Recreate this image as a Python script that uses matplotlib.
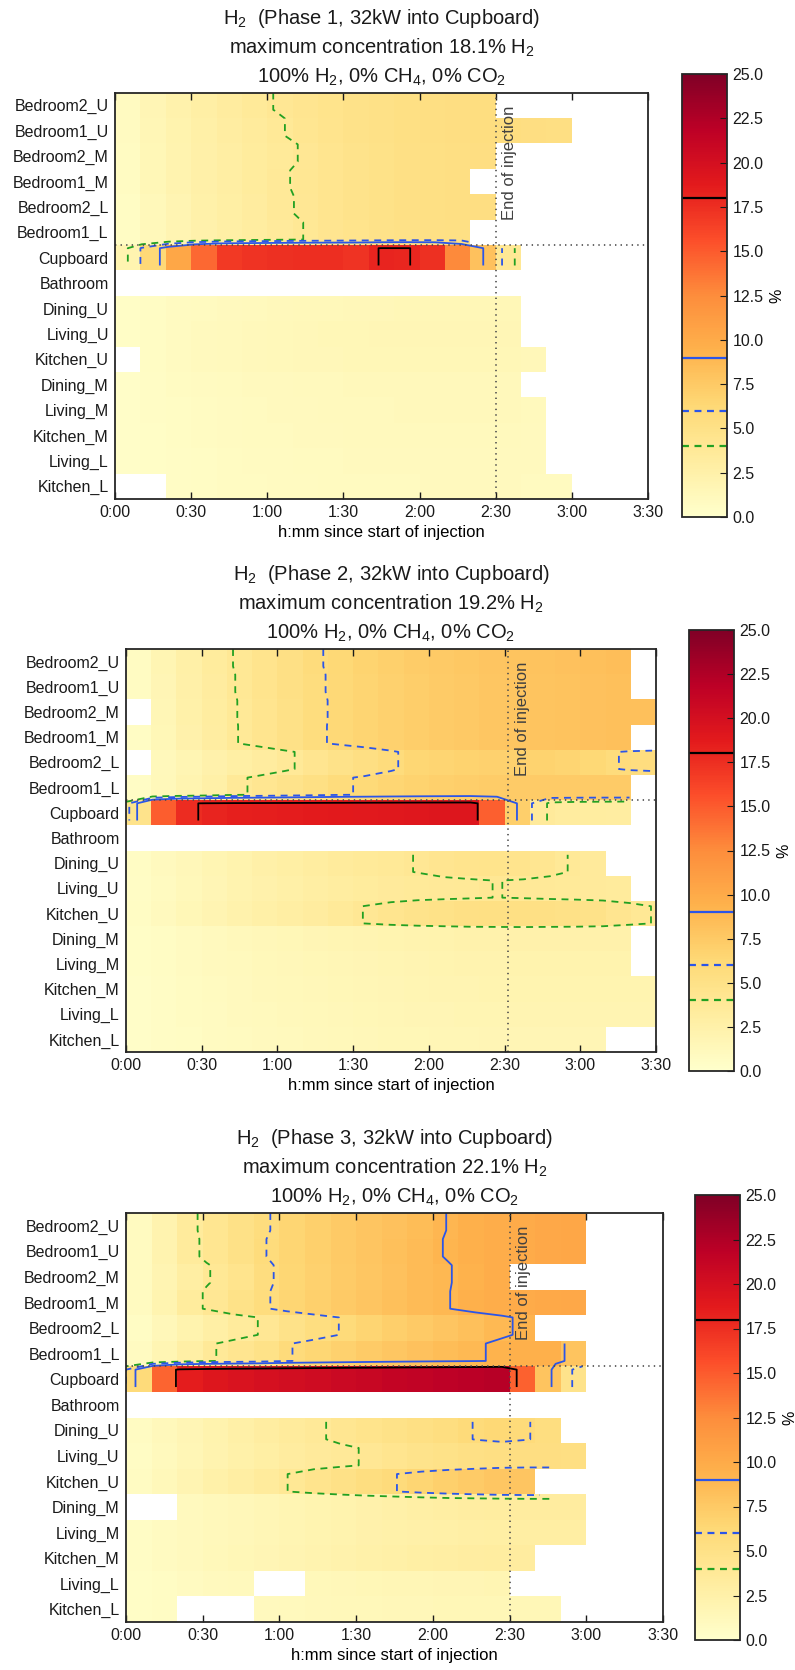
import numpy as np
import matplotlib
matplotlib.use('Agg')
import matplotlib.pyplot as plt

plt.rcParams['font.family'] = ['Liberation Sans', 'DejaVu Sans']
plt.rcParams['mathtext.default'] = 'regular'
plt.rcParams['lines.dashed_pattern'] = [5, 4]
plt.rcParams['lines.dotted_pattern'] = [1, 3]
plt.rcParams['lines.scale_dashes'] = False
plt.rcParams['text.color'] = '0.1'
plt.rcParams['xtick.color'] = '0.1'
plt.rcParams['ytick.color'] = '0.1'

n = np.nan

# rows listed top to bottom, 10-minute columns from 0:00 to 3:30
rooms = ['Bedroom2_U', 'Bedroom1_U', 'Bedroom2_M', 'Bedroom1_M', 'Bedroom2_L',
         'Bedroom1_L', 'Cupboard', 'Bathroom', 'Dining_U', 'Living_U', 'Kitchen_U',
         'Dining_M', 'Living_M', 'Kitchen_M', 'Living_L', 'Kitchen_L']
time_edges = np.arange(0, 211, 10)
tick_min = np.arange(0, 211, 30)
tick_lab = ['0:00', '0:30', '1:00', '1:30', '2:00', '2:30', '3:00', '3:30']
levels = [4, 6, 9, 18]
max_conc = [18.1, 19.2, 22.1]
end_inj = [150, 151.5, 150]

phase1 = [
    [0.8, 1.7, 2.3, 2.8, 3.3, 3.7, 4.02, 4.3, 4.6, 4.8, 5.0, 5.2, 5.3, 5.4, 5.5, n, n, n, n, n, n],
    [0.8, 1.6, 2.2, 2.7, 3.1, 3.5, 3.85, 4.25, 4.5, 4.8, 5.0, 5.2, 5.3, 5.4, 5.5, 5.5, 5.4, 5.3, n, n, n],
    [0.7, 1.5, 2.1, 2.6, 3.0, 3.4, 3.7, 4.05, 4.4, 4.7, 4.9, 5.1, 5.2, 5.3, 5.4, n, n, n, n, n, n],
    [0.7, 1.5, 2.1, 2.6, 3.0, 3.4, 3.8, 4.15, 4.45, 4.7, 4.9, 5.1, 5.2, 5.3, n, n, n, n, n, n, n],
    [0.6, 1.3, 1.9, 2.5, 2.9, 3.3, 3.75, 4.1, 4.4, 4.7, 4.9, 5.1, 5.2, 5.3, 5.4, n, n, n, n, n, n],
    [0.6, 1.3, 1.9, 2.4, 2.8, 3.2, 3.6, 3.98, 4.3, 4.6, 4.8, 5.0, 5.1, 5.2, n, n, n, n, n, n, n],
    [1.96, 6.2, 10.3, 14.3, 16.8, 17.2, 17.4, 17.5, 17.5, 17.2, 18.1, 18.05, 17.4, 12.6, 8.2, 4.0, n, n, n, n, n],
    [n] * 21,
    [0.4, 0.6, 0.8, 0.9, 1.0, 1.1, 1.2, 1.3, 1.3, 1.4, 1.4, 1.5, 1.5, 1.5, 1.5, 1.5, n, n, n, n, n],
    [0.4, 0.6, 0.8, 1.0, 1.1, 1.2, 1.3, 1.4, 1.5, 1.5, 1.6, 1.6, 1.6, 1.6, 1.6, 1.6, n, n, n, n, n],
    [n, 0.6, 0.8, 1.0, 1.1, 1.2, 1.3, 1.4, 1.4, 1.5, 1.5, 1.5, 1.5, 1.5, 1.5, 1.5, 1.4, n, n, n, n],
    [0.3, 0.5, 0.7, 0.8, 0.9, 1.0, 1.0, 1.1, 1.1, 1.2, 1.2, 1.2, 1.2, 1.2, 1.2, 1.2, n, n, n, n, n],
    [0.3, 0.5, 0.6, 0.7, 0.8, 0.9, 1.0, 1.0, 1.1, 1.1, 1.1, 1.2, 1.2, 1.2, 1.2, 1.2, 1.1, n, n, n, n],
    [0.3, 0.4, 0.6, 0.7, 0.8, 0.9, 0.9, 1.0, 1.0, 1.1, 1.1, 1.1, 1.1, 1.1, 1.1, 1.1, 1.0, n, n, n, n],
    [0.3, 0.4, 0.5, 0.6, 0.7, 0.8, 0.8, 0.9, 0.9, 1.0, 1.0, 1.0, 1.0, 1.0, 1.0, 1.0, 1.0, n, n, n, n],
    [n, n, 0.5, 0.6, 0.7, 0.7, 0.8, 0.8, 0.9, 0.9, 0.9, 0.9, 1.0, 1.0, 1.0, 1.0, 0.9, 0.9, n, n, n],
]

phase2 = [
    [0.7, 1.8, 2.7, 3.4, 3.98, 4.5, 5.1, 5.8, 6.25, 6.7, 7.0, 7.3, 7.5, 7.7, 7.9, 8.0, 8.1, 8.2, 8.3, 8.4, n],
    [0.7, 1.7, 2.6, 3.3, 3.93, 4.5, 5.1, 5.75, 6.22, 6.6, 6.9, 7.2, 7.4, 7.6, 7.8, 7.9, 8.0, 8.1, 8.2, 8.3, n],
    [n, 1.6, 2.5, 3.2, 3.9, 4.4, 5.0, 5.72, 6.18, 6.6, 6.9, 7.2, 7.4, 7.6, 7.8, 7.9, 8.0, 8.1, 8.2, 8.3, 8.3],
    [0.6, 1.5, 2.4, 3.1, 3.88, 4.4, 5.0, 5.72, 6.2, 6.6, 6.9, 7.2, 7.4, 7.6, 7.8, 7.9, 8.0, 8.1, 8.2, 8.3, n],
    [n, 1.2, 1.8, 2.4, 2.9, 3.3, 3.8, 4.35, 4.8, 5.3, 5.85, 6.4, 6.6, 6.8, 6.9, 6.9, 6.8, 6.6, 6.3, 5.8, 5.6],
    [0.5, 1.3, 2.0, 2.7, 3.72, 4.2, 4.7, 5.2, 5.8, 6.15, 6.5, 6.8, 7.0, 7.2, 7.3, 7.4, 7.4, 7.4, 7.4, 7.4, n],
    [4.75, 14.85, 17.6, 18.15, 18.4, 18.5, 18.6, 18.7, 18.8, 18.9, 19.0, 19.1, 19.15, 19.2, 14.75, 7.12, 3.61, 3.3, 3.2, 3.1, n],
    [n] * 21,
    [0.6, 1.0, 1.4, 1.8, 2.2, 2.6, 2.9, 3.2, 3.45, 3.65, 3.85, 4.03, 4.3, 4.5, 4.6, 4.5, 4.2, 3.9, 3.6, n, n],
    [0.5, 0.9, 1.3, 1.7, 2.1, 2.4, 2.7, 3.0, 3.2, 3.4, 3.55, 3.7, 3.8, 3.9, 4.02, 3.92, 3.8, 3.7, 3.6, 3.5, n],
    [0.6, 1.0, 1.5, 1.9, 2.3, 2.7, 3.0, 3.3, 3.7, 4.02, 4.4, 4.7, 4.9, 5.1, 5.2, 5.2, 5.1, 5.0, 4.8, 4.3, 3.93],
    [0.4, 0.6, 0.8, 1.0, 1.2, 1.4, 1.5, 1.7, 1.8, 1.9, 2.0, 2.1, 2.2, 2.3, 2.3, 2.4, 2.4, 2.4, 2.4, 2.4, n],
    [0.4, 0.6, 0.8, 1.0, 1.1, 1.3, 1.4, 1.5, 1.6, 1.7, 1.8, 1.9, 2.0, 2.1, 2.1, 2.2, 2.2, 2.2, 2.2, 2.2, n],
    [0.3, 0.5, 0.7, 0.9, 1.0, 1.2, 1.3, 1.4, 1.5, 1.6, 1.7, 1.8, 1.9, 1.9, 2.0, 2.0, 2.0, 2.0, 2.0, 2.0, 2.0],
    [0.3, 0.5, 0.7, 0.8, 1.0, 1.1, 1.2, 1.3, 1.4, 1.5, 1.6, 1.7, 1.7, 1.8, 1.8, 1.9, 1.9, 1.9, 1.9, 1.9, 1.9],
    [0.3, 0.5, 0.6, 0.8, 0.9, 1.0, 1.1, 1.2, 1.3, 1.4, 1.5, 1.5, 1.6, 1.6, 1.7, 1.7, 1.7, 1.7, 1.7, n, n],
]

phase3 = [
    [0.9, 2.1, 3.5, 4.25, 5.0, 5.7, 6.5, 7.0, 7.5, 7.9, 8.2, 8.5, 9.04, 9.5, 9.8, 10.0, 10.2, 10.3, n, n, n],
    [0.9, 2.1, 3.45, 4.2, 5.0, 5.85, 6.5, 7.0, 7.5, 7.9, 8.3, 8.6, 9.1, 9.5, 9.8, 10.0, 10.2, 10.3, n, n, n],
    [0.9, 1.9, 3.0, 3.92, 4.5, 5.65, 6.35, 6.9, 7.4, 7.8, 8.2, 8.6, 8.93, 9.45, 9.8, n, n, n, n, n, n],
    [0.9, 2.0, 3.4, 4.1, 4.9, 5.7, 6.5, 7.0, 7.5, 7.9, 8.3, 8.65, 8.96, 9.5, 9.8, 10.0, 10.1, 10.2, n, n, n],
    [0.6, 1.4, 2.2, 2.8, 3.5, 4.05, 4.8, 5.5, 6.04, 6.6, 7.1, 7.5, 7.9, 8.3, 8.8, 9.3, n, n, n, n, n],
    [0.8, 1.8, 2.8, 3.8, 4.35, 4.9, 5.9, 6.4, 6.9, 7.4, 7.8, 8.2, 8.5, 8.8, 9.3, 9.5, 9.5, 8.0, n, n, n],
    [6.0, 14.5, 18.57, 19.2, 19.6, 19.9, 20.2, 20.5, 20.8, 21.0, 21.3, 21.5, 21.7, 21.9, 22.1, 14.65, 8.0, 4.77, n, n, n],
    [n] * 21,
    [0.7, 1.2, 1.7, 2.2, 2.7, 3.1, 3.5, 3.8, 4.24, 4.6, 4.9, 5.2, 5.5, 6.05, 6.3, 6.03, 5.5, n, n, n, n],
    [0.6, 1.1, 1.6, 2.1, 2.5, 2.9, 3.3, 3.6, 3.8, 4.1, 4.4, 4.7, 4.9, 5.1, 5.3, 5.4, 5.4, 5.3, n, n, n],
    [0.7, 1.3, 1.9, 2.5, 3.0, 3.5, 3.99, 4.5, 5.0, 5.5, 5.95, 6.5, 7.0, 7.4, 7.8, 7.9, n, n, n, n, n],
    [n, n, 1.0, 1.2, 1.4, 1.6, 1.8, 2.0, 2.2, 2.4, 2.6, 2.8, 3.0, 3.1, 3.2, 3.3, 3.3, 3.3, n, n, n],
    [0.5, 0.8, 1.0, 1.2, 1.4, 1.6, 1.8, 2.0, 2.2, 2.4, 2.5, 2.6, 2.7, 2.8, 2.9, 3.0, 3.0, 3.0, n, n, n],
    [0.5, 0.8, 1.0, 1.3, 1.5, 1.7, 1.9, 2.1, 2.3, 2.5, 2.7, 2.9, 3.0, 3.1, 3.2, 3.3, n, n, n, n, n],
    [0.4, 0.6, 0.8, 1.0, 1.1, n, n, 1.3, 1.4, 1.5, 1.6, 1.6, 1.7, 1.7, 1.8, n, n, n, n, n, n],
    [0.4, 0.6, n, n, n, 1.0, 1.1, 1.2, 1.3, 1.3, 1.4, 1.4, 1.5, 1.5, 1.5, 1.5, 1.5, n, n, n, n],
]

phases = [phase1, phase2, phase3]

W, H = 795, 1670
# pixel boxes: axes (left, top, right, bottom), colorbar (left, top, right, bottom)
ax_px = [(115, 92.5, 648, 499), (126, 649, 656, 1052), (126, 1213, 663, 1622)]
cb_px = [(682, 74, 727, 517), (689, 630, 734, 1071), (695, 1195, 740, 1640)]


def frac(box):
    l, t, r, b = box
    return [l / W, 1 - b / H, (r - l) / W, (b - t) / H]


line_colors = ['#22a022', '#2b55e8', '#2b55e8', 'black']
line_styles = ['--', '--', '-', '-']

fig = plt.figure(figsize=(W / 100, H / 100), dpi=100)

for i, rows in enumerate(phases):
    ax = fig.add_axes(frac(ax_px[i]))
    cax = fig.add_axes(frac(cb_px[i]))

    Z = np.array(rows, dtype=float)[::-1]
    mesh = ax.pcolormesh(time_edges, np.arange(17), np.ma.masked_invalid(Z),
                         cmap='YlOrRd', vmin=0, vmax=25)
    Zc = np.ma.masked_invalid(np.repeat(Z, 3, axis=0))
    cs = ax.contour(Zc, levels=levels, colors=line_colors, linestyles=line_styles,
                    linewidths=1.3, extent=(0, 210, 0, 16))

    ax.axvline(end_inj[i], color='0.3', ls=':', lw=1.2)
    ax.axhline(10, color='0.3', ls=':', lw=1.2)
    ax.text(end_inj[i] + 2.6, 15.5, 'End of injection', rotation=90,
            ha='left', va='top', fontsize=12, color='0.25')

    ax.set_xlim(0, 210)
    ax.set_ylim(0, 16)
    ax.set_xticks(tick_min)
    ax.set_xticklabels(tick_lab, fontsize=11.5)
    ax.set_yticks(np.arange(16) + 0.5)
    ax.set_yticklabels(rooms[::-1], fontsize=11.5)
    ax.tick_params(axis='x', direction='in', top=True, length=5, width=1, pad=4)
    ax.tick_params(axis='y', length=0, pad=4.5)
    ax.set_xlabel('h:mm since start of injection', fontsize=12, labelpad=4)
    for sp in ax.spines.values():
        sp.set_linewidth(1.3)
        sp.set_color('0.15')

    cb = fig.colorbar(mesh, cax=cax, ticks=np.arange(0, 25.1, 2.5), format='%.1f')
    for lev, col, ls in zip(levels, line_colors, line_styles):
        cax.axhline(lev, color=col, ls=ls, lw=1.6)
    cb.set_label('%', fontsize=11.5)
    cb.ax.tick_params(direction='in', length=5, labelsize=11.5, right=True, pad=4)
    cb.outline.set_linewidth(1.3)
    cb.outline.set_edgecolor('0.15')

    l, t, r, b = ax_px[i]
    xc = (l + r) / 2 / W
    titles = ['H$_2$  (Phase %d, 32kW into Cupboard)' % (i + 1),
              'maximum concentration %.1f%% H$_2$' % max_conc[i],
              '100% H$_2$, 0% CH$_4$, 0% CO$_2$']
    for k, s in enumerate(titles):
        y = t - 74.5 + 29.5 * k
        fig.text(xc, 1 - y / H, s, ha='center', va='center', fontsize=14.5)

fig.savefig('out.png', dpi=100)
